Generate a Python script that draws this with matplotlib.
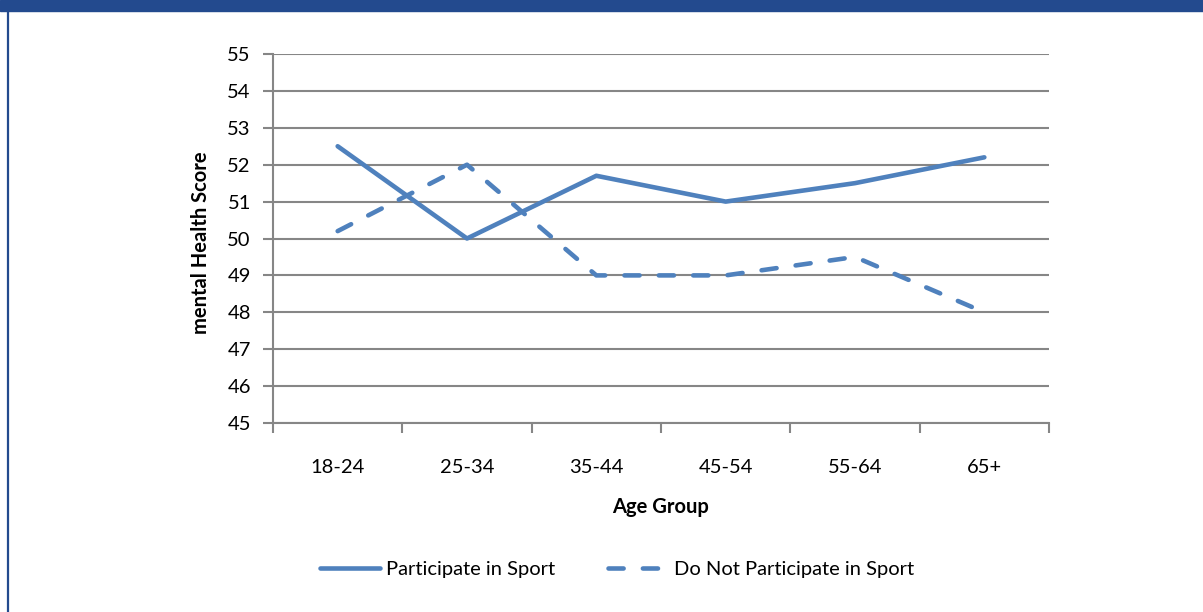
import matplotlib
matplotlib.use("Agg")
import matplotlib.pyplot as plt
from matplotlib.patches import Rectangle
from matplotlib.lines import Line2D

categories = ["18-24", "25-34", "35-44", "45-54", "55-64", "65+"]
participate = [52.5, 50.0, 51.7, 51.0, 51.5, 52.2]
not_participate = [50.2, 52.0, 49.0, 49.0, 49.5, 48.0]
yticks = [45, 46, 47, 48, 49, 50, 51, 52, 53, 54, 55]

plt.rcParams['font.family'] = ['Lato', 'DejaVu Sans']
W, H = 1203, 612
fig = plt.figure(figsize=(W/100, H/100), dpi=100)
ax = fig.add_axes([273/W, 1-423/H, (1049-273)/W, (423-54)/H])

color = '#4F81BD'
grid = '#868686'
FS = 14.5
x = list(range(len(categories)))
ax.plot(x, participate, color=color, lw=3.3, solid_capstyle='round', solid_joinstyle='round',
        label='Participate in Sport')
ax.plot(x, not_participate, color=color, lw=3.3, dashes=(3.3, 4.2), dash_capstyle='round',
        label='Do Not Participate in Sport')

ax.set_xlim(-0.5, len(categories)-0.5)
ax.set_ylim(45, 55)
ax.set_yticks(yticks)
ax.set_yticklabels([str(v) for v in yticks], fontsize=FS)
ax.set_xticks(x)
ax.set_xticklabels(categories, fontsize=FS)
ax.tick_params(axis='x', length=0, pad=26)
ax.set_xticks([i-0.5 for i in range(len(categories)+1)], minor=True)
ax.tick_params(axis='x', which='minor', length=7, color=grid, width=1.5, direction='out')
ax.tick_params(axis='y', length=7, color=grid, width=1.5, direction='out', pad=9)
ax.grid(axis='y', color=grid, lw=1.5)
ax.set_axisbelow(True)
for s in ['top', 'right']:
    ax.spines[s].set_visible(False)
for s in ['left', 'bottom']:
    ax.spines[s].set_color(grid)
    ax.spines[s].set_linewidth(1.5)

fig.text(661/W, 1-507/H, "Age Group", fontsize=FS, fontweight='bold', ha='center', va='center')
fig.text(201/W, 1-243/H, "mental Health Score", fontsize=FS, fontweight='bold',
         ha='center', va='center', rotation=90)

leg = fig.legend(loc='center', bbox_to_anchor=(617/W, 1-569/H), ncol=2, frameon=False,
                 fontsize=FS, handlelength=3.0, columnspacing=2.6, handletextpad=0.3)

# banner and border
fig.patches.append(Rectangle((0, 1-11/H), 1, 11/H, transform=fig.transFigure,
                             color='#234A8E', zorder=0))
fig.lines.append(Line2D([8/W, 8/W], [0, 1], transform=fig.transFigure,
                        color='#234A8E', lw=1.6))

fig.savefig("out.png", dpi=100)
